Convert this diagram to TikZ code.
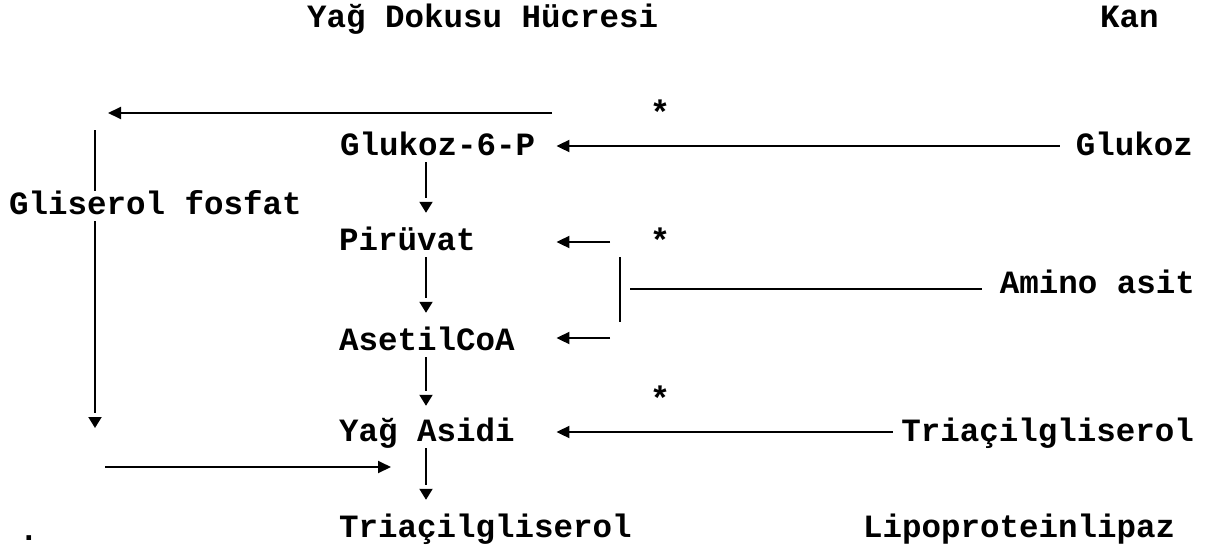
\documentclass[tikz,border=0pt]{standalone}
\usepackage{fontspec}
\setmonofont{Liberation Mono}
\usetikzlibrary{arrows.meta}
\begin{document}
\begin{tikzpicture}[x=1pt,y=-1pt,
  lbl/.style={font=\ttfamily\bfseries\fontsize{32.5}{36}\selectfont, inner sep=0pt, text height=18pt, text depth=0pt, anchor=west},
  starlbl/.style={font=\ttfamily\bfseries\fontsize{34}{38}\selectfont, inner sep=0pt, text height=18pt, text depth=0pt, anchor=center},
  ln/.style={line width=1.9pt, line cap=butt},
  larrow/.style={ln, -{Triangle[length=13pt,width=12pt]}},
  gaparrow/.style={ln, shorten >=#1+15pt, postaction={draw, shorten >=#1, dash pattern=on 0pt off 3000pt, -{Triangle[length=11pt,width=13pt]}}},
]
\useasboundingbox (0,0) rectangle (1209,549);

% texts
\node[lbl] (title) at (307,18) {Yağ Dokusu Hücresi};
\node[lbl] (kan) at (1100,18) {Kan};
\node[lbl] (g6p) at (340,146) {Glukoz-6-P};
\node[lbl,anchor=east] (glukoz) at (1193,146) {Glukoz};
\node[lbl] (gliserol) at (9,205) {Gliserol fosfat};
\node[lbl] (piruvat) at (339,241) {Pirüvat};
\node[lbl,anchor=east] (amino) at (1195,284) {Amino asit};
\node[lbl] (asetil) at (339,341) {AsetilCoA};
\node[lbl] (yag) at (339,432) {Yağ Asidi};
\node[lbl,anchor=east] (tagkan) at (1194,432) {Triaçilgliserol};
\node[lbl] (tag) at (339,528) {Triaçilgliserol};
\node[lbl] (lpl) at (863,528) {Lipoproteinlipaz};
\node[lbl,anchor=center] (dot) at (29,531) {.};
\node[starlbl] (s1) at (660,115) {*};
\node[starlbl] (s2) at (660,243) {*};
\node[starlbl] (s3) at (660,401) {*};

% helper coordinates
\coordinate (col) at (426,0);
\coordinate (topR) at (552,113);
\coordinate (topL) at (108,113);
\coordinate (lcol) at (95,130);
\coordinate (ltip) at (95,428);
\coordinate (pa) at (610,242);
\coordinate (aa) at (610,338);
\coordinate (bt) at (620,257);
\coordinate (bb) at (620,322);
\coordinate (bj) at (630,289);
\coordinate (ra) at (105,467);
\coordinate (rb) at (391,467);

% top loop to gliserol fosfat
\draw[larrow] (topR) -- (topL);
\draw[ln, shorten >=5pt] (lcol) -- (lcol |- gliserol.north);
\draw[gaparrow=0pt, shorten <=7pt] (lcol |- gliserol.south) -- (ltip);
\draw[larrow] (ra) -- (rb);

% main column
\draw[gaparrow=19pt, shorten <=7pt] (g6p.south -| col) -- (piruvat.north -| col);
\draw[gaparrow=19pt, shorten <=7pt] (piruvat.south -| col) -- (asetil.north -| col);
\draw[gaparrow=17pt, shorten <=7pt] (asetil.south -| col) -- (yag.north -| col);
\draw[gaparrow=19pt, shorten <=7pt] (yag.south -| col) -- (tag.north -| col);

% blood side inputs
\draw[larrow, shorten <=16pt, shorten >=21pt] (glukoz.west) -- (g6p.east);
\draw[larrow, shorten >=80.5pt] (pa) -- (piruvat.east |- pa);
\draw[larrow, shorten >=41.5pt] (aa) -- (asetil.east |- aa);
\draw[ln] (bt) -- (bb);
\draw[ln, shorten >=18pt] (bj) -- (bj -| amino.west);
\draw[larrow, shorten <=8.5pt, shorten >=41.5pt] (tagkan.west) -- (yag.east);
\end{tikzpicture}
\end{document}
